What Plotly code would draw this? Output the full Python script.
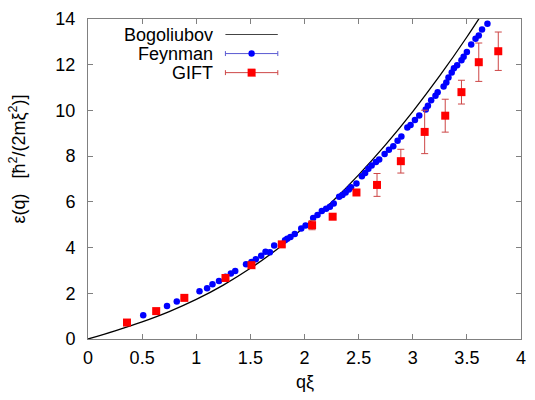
import plotly.graph_objects as go

# Bogoliubov dispersion
bog_q = [0.0, 0.25, 0.5, 0.75, 1.0, 1.25, 1.5, 1.75, 2.0, 2.25, 2.5, 2.75, 3.0, 3.25, 3.5, 3.75]
bog_e = [0.0, 0.359, 0.75, 1.20, 1.732, 2.359, 3.092, 3.938, 4.899, 5.979, 7.181, 8.504, 9.950, 11.519, 13.212, 15.029]

# Feynman points (blue circles)
fey_q = [0.51, 0.73, 0.82, 1.03, 1.10, 1.15, 1.21, 1.27, 1.32, 1.36, 1.46, 1.51, 1.55, 1.60,
         1.64, 1.68, 1.72, 1.82, 1.84, 1.87, 1.91, 1.97, 2.01, 2.08, 2.12, 2.16, 2.20, 2.235,
         2.27, 2.32, 2.35, 2.38, 2.41, 2.43, 2.48, 2.53, 2.56, 2.59, 2.62, 2.66, 2.69, 2.74,
         2.78, 2.82, 2.86, 2.895, 2.95, 2.98, 3.02, 3.06, 3.12, 3.14, 3.17, 3.21, 3.23, 3.285,
         3.31, 3.33, 3.36, 3.38, 3.41, 3.45, 3.47, 3.50, 3.54, 3.58, 3.61, 3.64, 3.69]
fey_e = [1.04, 1.44, 1.64, 2.09, 2.22, 2.39, 2.54, 2.72, 2.87, 2.97, 3.27, 3.37, 3.49, 3.64,
         3.82, 3.79, 4.09, 4.32, 4.39, 4.46, 4.59, 4.83, 4.97, 5.29, 5.43, 5.60, 5.70, 5.79,
         5.93, 6.22, 6.30, 6.41, 6.54, 6.64, 6.80, 7.12, 7.26, 7.45, 7.59, 7.74, 7.85, 8.09,
         8.28, 8.43, 8.67, 8.86, 9.25, 9.36, 9.58, 9.78, 10.04, 10.21, 10.44, 10.64, 10.79, 11.05,
         11.22, 11.44, 11.66, 11.84, 11.98, 12.20, 12.35, 12.56, 12.88, 13.14, 13.28, 13.54, 13.79]

# GIFT points (red squares) with error bars
gift_q = [0.36, 0.63, 0.89, 1.27, 1.51, 1.79, 2.07, 2.26, 2.48, 2.67, 2.89, 3.11, 3.30, 3.45, 3.61, 3.79]
gift_e = [0.72, 1.22, 1.80, 2.67, 3.23, 4.14, 4.98, 5.35, 6.41, 6.74, 7.78, 9.06, 9.77, 10.80, 12.11, 12.59]
gift_err = [0.05, 0.05, 0.05, 0.05, 0.05, 0.08, 0.2, 0.1, 0.1, 0.5, 0.52, 0.95, 0.72, 0.52, 0.84, 0.84]

legend_names = ["Bogoliubov", "Feynman", "GIFT"]

FONT = "Liberation Sans, Arial, sans-serif"
FS = 18
GRAY = "#808080"
ERRC = "rgb(205,70,70)"

fig = go.Figure()
fig.add_trace(go.Scatter(x=bog_q, y=bog_e, mode="lines", line=dict(color="black", width=1.3, shape="spline"),
                         showlegend=False, hoverinfo="skip"))
fig.add_trace(go.Scatter(x=fey_q, y=fey_e, mode="markers",
                         marker=dict(color="#0000ff", size=6.5, symbol="circle", line=dict(width=0)),
                         showlegend=False))
fig.add_trace(go.Scatter(x=gift_q, y=gift_e, mode="markers",
                         marker=dict(color="#ff0000", size=8, symbol="square", line=dict(width=0)),
                         error_y=dict(type="data", array=gift_err, visible=True, color=ERRC, thickness=1, width=3.5),
                         showlegend=False))

# plot area in pixels
L, R, T, B = 88, 526, 15, 339
W, H = R - L, B - T
def px(x): return (x - L) / W
def py(y): return (B - y) / H

shapes = []
annotations = []
rows = [30.7, 50.0, 69.3]
lcolors = ["#444444", "rgb(90,90,210)", ERRC]
for i, (name, yy) in enumerate(zip(legend_names, rows)):
    annotations.append(dict(x=px(216), y=py(yy), xref="paper", yref="paper", text=name, showarrow=False,
                            xanchor="right", yanchor="middle", font=dict(family=FONT, size=FS, color="black")))
    shapes.append(dict(type="line", xref="paper", yref="paper", x0=px(227), x1=px(280), y0=py(yy), y1=py(yy),
                       line=dict(color=lcolors[i], width=1)))
    if i > 0:
        for xe in (227, 280):
            shapes.append(dict(type="line", xref="paper", yref="paper", x0=px(xe), x1=px(xe),
                               y0=py(yy - 2.5), y1=py(yy + 2.5), line=dict(color=lcolors[i], width=1)))
        if i == 1:
            shapes.append(dict(type="circle", xref="paper", yref="paper", xsizemode="pixel", ysizemode="pixel",
                               xanchor=px(253.5), yanchor=py(yy), x0=-3.2, x1=3.2, y0=-3.2, y1=3.2,
                               fillcolor="#0000ff", line=dict(width=0)))
        else:
            shapes.append(dict(type="rect", xref="paper", yref="paper", xsizemode="pixel", ysizemode="pixel",
                               xanchor=px(253.5), yanchor=py(yy), x0=-4, x1=4, y0=-4, y1=4,
                               fillcolor="#ff0000", line=dict(width=0)))

annotations.append(dict(x=px(17), y=py(156.5), xref="paper", yref="paper",
                        text="ε(q)   [ħ<sup>2</sup>/(2mξ<sup>2</sup>)]", textangle=-90, showarrow=False,
                        xanchor="center", yanchor="middle", font=dict(family=FONT, size=FS, color="black")))
annotations.append(dict(x=0.5, y=py(383), xref="paper", yref="paper", text="qξ", showarrow=False,
                        xanchor="center", yanchor="middle", font=dict(family=FONT, size=FS, color="black")))

axis_common = dict(showgrid=False, zeroline=False, showline=True, linecolor=GRAY, linewidth=1,
                   mirror="ticks", ticks="inside", ticklen=5, tickcolor=GRAY, tickwidth=1,
                   tickfont=dict(family=FONT, size=FS, color="black"))
fig.update_xaxes(range=[0, 4], tickmode="array", tickvals=[0, 0.5, 1, 1.5, 2, 2.5, 3, 3.5, 4],
                 ticktext=["0", "0.5", "1", "1.5", "2", "2.5", "3", "3.5", "4"], ticklabelstandoff=2, **axis_common)
fig.update_yaxes(range=[0, 14], tickmode="array", tickvals=[0, 2, 4, 6, 8, 10, 12, 14],
                 ticktext=["0", "2", "4", "6", "8", "10", "12", "14"], ticklabelstandoff=8, **axis_common)

fig.update_layout(width=535, height=400, margin=dict(l=L, r=535 - R, t=T, b=400 - B),
                  paper_bgcolor="white", plot_bgcolor="white", shapes=shapes, annotations=annotations,
                  font=dict(family=FONT, size=FS, color="black"), showlegend=False)

fig.write_html("out.html")
